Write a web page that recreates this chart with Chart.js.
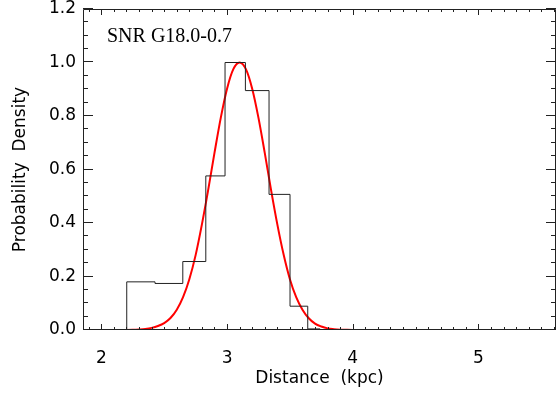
<!DOCTYPE html>
<html lang="en">
  <head>
    <meta charset="UTF-8" />
    <title>SNR G18.0-0.7</title>
    <script src="https://cdn.jsdelivr.net/npm/chart.js"></script>
    <style>
      html, body { margin: 0; padding: 0; background: #fff; }
      #wrap { width: 556px; height: 394px; }
    </style>
  </head>
  <body>
    <div id="wrap"><canvas id="chart"></canvas></div>
    <script>
      // histogram: bin edges (kpc) and heights
      const binEdges = [2.202, 2.427, 2.648, 2.831, 2.984, 3.146, 3.334, 3.501, 3.642, 3.74];
      const binHeights = [0.180, 0.174, 0.256, 0.576, 1.0, 0.895, 0.507, 0.089, 0.004];

      // red fitted curve
      const fitX = [1.85, 2.2, 2.25, 2.3, 2.35, 2.4, 2.45, 2.5, 2.55, 2.6, 2.65, 2.7, 2.75, 2.8, 2.85, 2.9, 2.95, 3.0, 3.05, 3.1,
                    3.15, 3.2, 3.25, 3.3, 3.35, 3.4, 3.45, 3.5, 3.55, 3.6, 3.65, 3.7, 3.75, 3.8, 3.85, 3.9, 3.95, 4.0, 5.62];
      const fitY = [0, 0.0003, 0.0008, 0.002, 0.004, 0.008, 0.015, 0.026, 0.045, 0.076, 0.123, 0.19, 0.28, 0.395, 0.524, 0.662, 0.793, 0.902, 0.975, 1.0,
                    0.975, 0.902, 0.793, 0.662, 0.524, 0.395, 0.282, 0.19, 0.123, 0.076, 0.044, 0.024, 0.013, 0.006, 0.003, 0.0013, 0.0006, 0.0002, 0];

      const xTicks = [2, 3, 4, 5];
      const yTicks = [0, 0.2, 0.4, 0.6, 0.8, 1.0, 1.2];
      const label = "SNR G18.0-0.7";

      const histPoints = [{ x: binEdges[0], y: 0 }];
      binHeights.forEach((h, i) => histPoints.push({ x: binEdges[i], y: h }));
      histPoints.push({ x: binEdges[binEdges.length - 1], y: 0 });

      const fitPoints = fitX.map((x, i) => ({ x: x, y: fitY[i] }));

      const axisColor = "#222";

      // IDL style box with inward ticks + the text label
      const frame = {
        id: "frame",
        afterDatasetsDraw(chart) {
          const { ctx, chartArea: a, scales } = chart;
          const xs = scales.x, ys = scales.y;
          ctx.save();
          ctx.strokeStyle = axisColor;
          ctx.lineWidth = 1;
          ctx.beginPath();
          ctx.rect(a.left + 0.5, a.top + 0.5, a.right - a.left - 1, a.bottom - a.top - 1);
          // x ticks: minor every 0.1
          for (let i = 19; i <= 56; i++) {
            const v = i / 10;
            const px = Math.round(xs.getPixelForValue(v)) + 0.5;
            const len = i % 10 === 0 ? 6 : 3;
            ctx.moveTo(px, a.bottom);
            ctx.lineTo(px, a.bottom - len);
            ctx.moveTo(px, a.top);
            ctx.lineTo(px, a.top + len);
          }
          // y ticks: minor every 0.05
          for (let i = 0; i <= 24; i++) {
            const v = i / 20;
            const py = Math.round(ys.getPixelForValue(v)) - 0.5;
            const len = i % 4 === 0 ? 10 : 5;
            ctx.moveTo(a.left, py);
            ctx.lineTo(a.left + len, py);
            ctx.moveTo(a.right, py);
            ctx.lineTo(a.right - len, py);
          }
          ctx.stroke();

          ctx.fillStyle = "#000";
          ctx.font = '20px "Liberation Serif"';
          ctx.textBaseline = "alphabetic";
          ctx.fillText(label, a.left + 24, a.top + 33);
          ctx.restore();
        },
      };

      new Chart(document.getElementById("chart").getContext("2d"), {
        type: "line",
        data: {
          datasets: [
            {
              label: "histogram",
              data: histPoints,
              stepped: "before",
              borderColor: "#222",
              borderWidth: 1,
              pointRadius: 0,
              fill: false,
              clip: 0,
            },
            {
              label: "fit",
              data: fitPoints,
              borderColor: "#ff0000",
              borderWidth: 2,
              pointRadius: 0,
              cubicInterpolationMode: "monotone",
              fill: false,
              clip: 0,
            },
          ],
        },
        options: {
          responsive: true,
          maintainAspectRatio: false,
          animation: false,
          devicePixelRatio: 1,
          layout: { autoPadding: false, padding: { top: 9, right: 0, left: 0, bottom: 0 } },
          plugins: { legend: { display: false }, tooltip: { enabled: false } },
          scales: {
            x: {
              type: "linear",
              min: 1.854,
              max: 5.617,
              grid: { display: false, drawTicks: false },
              border: { display: false },
              afterBuildTicks: (s) => { s.ticks = xTicks.map((v) => ({ value: v })); },
              afterFit: (s) => {
                s.height = 64;
                s.paddingLeft = 0;
                s.paddingRight = 0;
              },
              ticks: {
                color: "#000",
                padding: 18,
                maxRotation: 0,
                font: { family: "DejaVu Sans", size: 17 },
                callback: (v) => String(v),
              },
              title: {
                display: true,
                text: "Distance  (kpc)",
                color: "#000",
                font: { family: "DejaVu Sans", size: 17 },
                padding: { top: 0, bottom: 5 },
              },
            },
            y: {
              type: "linear",
              min: 0,
              max: 1.2,
              grid: { display: false, drawTicks: false },
              border: { display: false },
              afterBuildTicks: (s) => { s.ticks = yTicks.map((v) => ({ value: v })); },
              afterFit: (s) => {
                s.width = 83;
                s.paddingTop = 0;
                s.paddingBottom = 0;
              },
              ticks: {
                color: "#000",
                padding: 7,
                font: { family: "DejaVu Sans", size: 17 },
                callback: (v) => Number(v).toFixed(1),
              },
              title: {
                display: true,
                text: "Probability  Density",
                color: "#000",
                font: { family: "DejaVu Sans", size: 17 },
                padding: { top: 10, bottom: 0 },
              },
            },
          },
        },
        plugins: [frame],
      });
    </script>
  </body>
</html>
